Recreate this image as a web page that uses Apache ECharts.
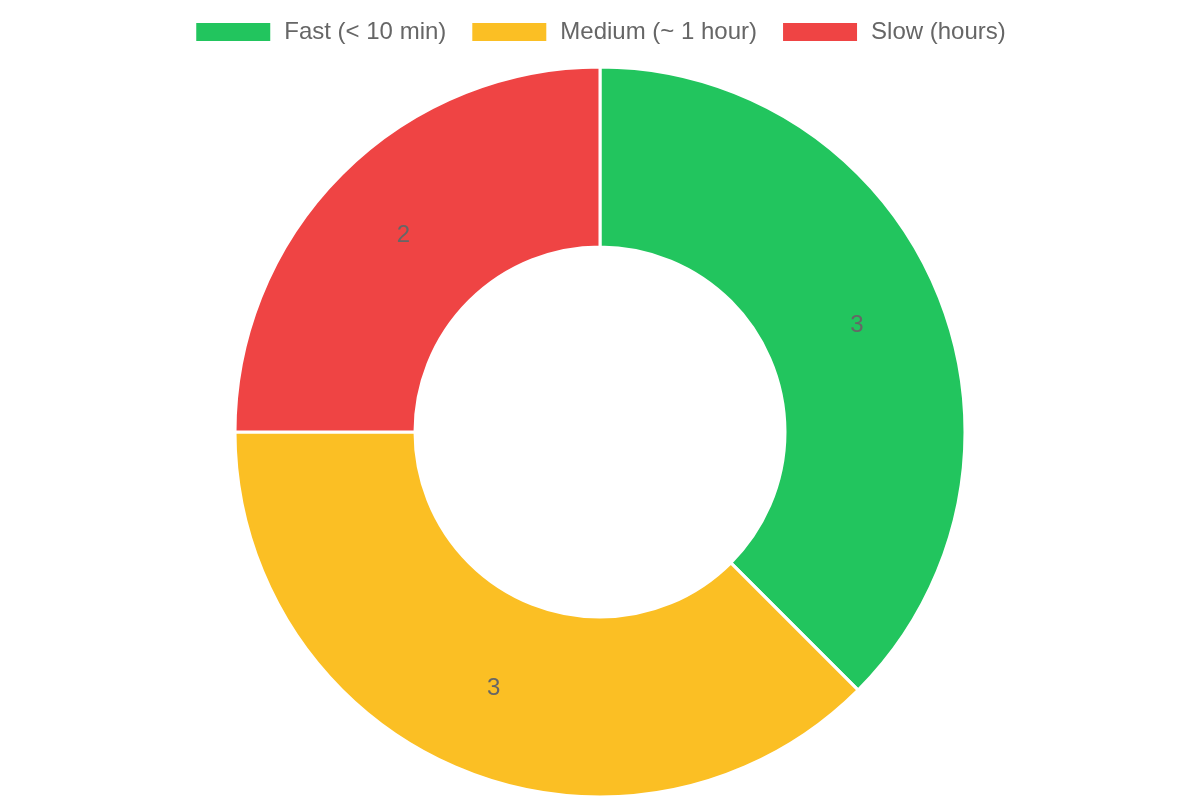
<!DOCTYPE html>
<html lang="en">
<head>
    <meta charset="UTF-8">
    <title>Response time</title>
    <script src="https://cdn.jsdelivr.net/npm/echarts@6/dist/echarts.min.js"></script>
    <style>
        body {
            margin: 0;
            padding: 0;
            overflow: hidden;
        }
        #chart {
            width: 1200px;
            height: 800px;
        }
    </style>
</head>
<body>
<div id="chart"></div>
<script>
    // categories and counts
    const categories = ['Fast (< 10 min)', 'Medium (~ 1 hour)', 'Slow (hours)']
    const counts = [3, 3, 2]
    const colors = ['#22c55e', '#fbbf24', '#ef4444']

    const chart = echarts.init(document.getElementById('chart'), null, { renderer: 'canvas' })

    chart.setOption({
        animation: false,
        color: colors,
        legend: {
            top: 15,
            left: 'center',
            itemWidth: 76,
            itemHeight: 20,
            itemGap: 24,
            icon: 'rect',
            textStyle: {
                fontFamily: 'Liberation Sans, Arial, sans-serif',
                fontSize: 24,
                color: '#666',
                padding: [0, 0, 0, 8]
            },
            data: categories
        },
        series: [{
            type: 'pie',
            center: [600, 432],
            radius: [185, 365],
            startAngle: 90,
            clockwise: true,
            itemStyle: {
                borderColor: '#fff',
                borderWidth: 3
            },
            label: {
                show: true,
                position: 'inside',
                formatter: '{c}',
                fontFamily: 'Liberation Sans, Arial, sans-serif',
                fontSize: 24,
                color: '#666'
            },
            labelLine: { show: false },
            emphasis: { disabled: true },
            data: categories.map((name, i) => ({ name: name, value: counts[i] }))
        }]
    })
</script>
</body>
</html>
